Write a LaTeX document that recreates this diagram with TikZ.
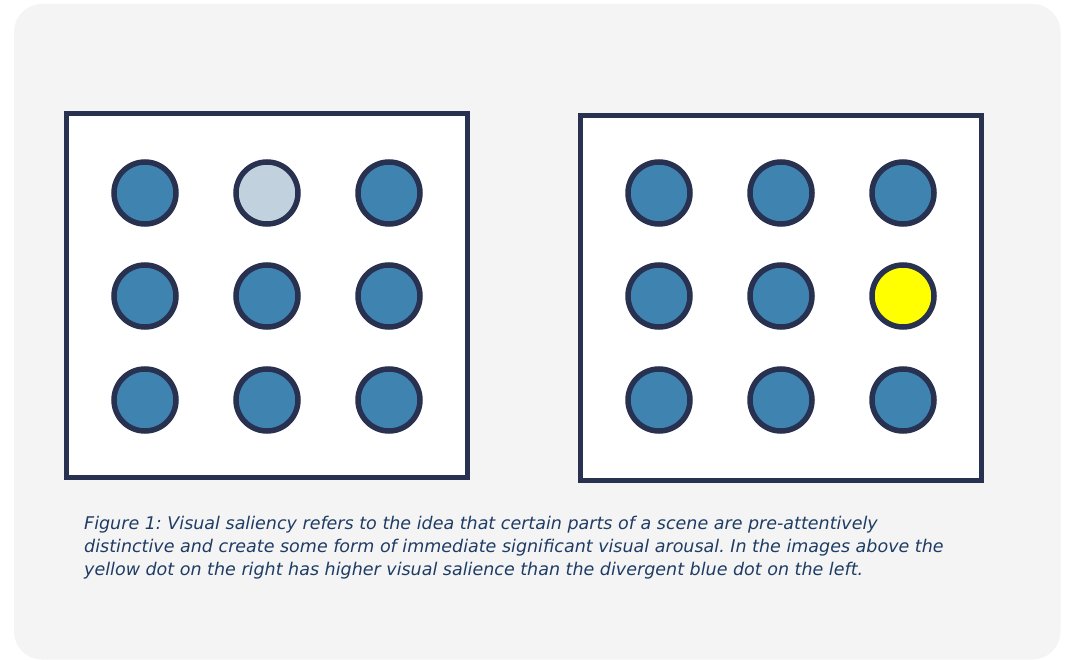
\documentclass[tikz,border=0pt]{standalone}
\usepackage{fontspec}
\setmainfont{DejaVu Sans}
\definecolor{panel}{HTML}{F4F4F4}
\definecolor{navy}{HTML}{283250}
\definecolor{dotblue}{HTML}{3F83B0}
\definecolor{dotpale}{HTML}{C1D2DE}
\definecolor{dotyellow}{HTML}{FFFF00}
\definecolor{captext}{HTML}{1E3C64}
\tikzset{
  frame/.style={draw=navy, line width=5pt, fill=white},
  dot/.style={circle, draw=navy, line width=5.5pt, minimum size=62pt, inner sep=0pt, fill=dotblue},
  pale/.style={dot, fill=dotpale},
  yel/.style={dot, fill=dotyellow},
  caption/.style={anchor=base west, align=left, text=captext, font=\fontsize{17.5}{23}\selectfont\itshape\frenchspacing, inner sep=0pt}
}
\begin{document}
\begin{tikzpicture}[x=1pt,y=-1pt]
\useasboundingbox (0,0) rectangle (1071,660);
\fill[white] (0,0) rectangle (1071,660);
\fill[panel, rounded corners=28pt] (14,4) rectangle (1060.5,659.5);
% frames
\draw[frame] (66.5,113.5) rectangle (467.5,477.5);
\draw[frame] (580.5,115.5) rectangle (981,480.2);
% left grid
\foreach \i/\x in {1/145,2/267,3/389}{
  \foreach \j/\y in {1/193,2/296,3/400}{
    \ifnum\i\j=21
      \node[pale] (L\i\j) at (\x,\y) {};
    \else
      \node[dot] (L\i\j) at (\x,\y) {};
    \fi
  }
}
% right grid
\foreach \i/\x in {1/659,2/781,3/903}{
  \foreach \j/\y in {1/193,2/296,3/400}{
    \ifnum\i\j=32
      \node[yel] (R\i\j) at (\x,\y) {};
    \else
      \node[dot] (R\i\j) at (\x,\y) {};
    \fi
  }
}
\node[caption] (cap1) at (84,529.5) {Figure 1: Visual saliency refers to the idea that certain parts of a scene are pre-attentively};
\node[caption] (cap2) at (84,552.5) {distinctive and create some form of immediate significant visual arousal. In the images above the};
\node[caption] (cap3) at (84,575.5) {yellow dot on the right has higher visual salience than the divergent blue dot on the left.};
\end{tikzpicture}
\end{document}
